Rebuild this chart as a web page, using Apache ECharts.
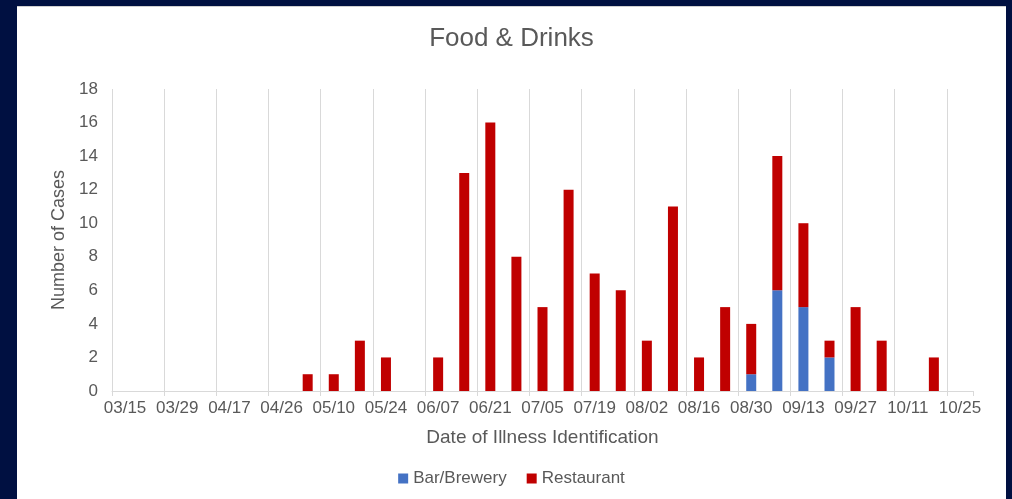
<!DOCTYPE html>
<html>
<head>
<meta charset="utf-8">
<script src="https://cdn.jsdelivr.net/npm/echarts@6/dist/echarts.min.js"></script>
<style>
  html, body { margin: 0; padding: 0; background: #001041; width: 1012px; height: 499px; overflow: hidden; }
  #chart { position: absolute; left: 17px; top: 6px; width: 989px; height: 493px; background: #ffffff; border-top: 1px solid #d0d0d0; box-sizing: border-box; }
</style>
</head>
<body>
<div id="chart"></div>
<script>
const categories = ['03/15','03/22','03/29','04/05','04/17','04/21','04/26','05/03','05/10','05/17','05/24','05/31','06/07','06/14','06/21','06/28','07/05','07/12','07/19','07/26','08/02','08/09','08/16','08/23','08/30','09/06','09/13','09/20','09/27','10/04','10/11','10/18','10/25'];
const barBrewery = [0,0,0,0,0,0,0,0,0,0,0,0,0,0,0,0,0,0,0,0,0,0,0,0,1,6,5,2,0,0,0,0,0];
const restaurant = [0,0,0,0,0,0,0,1,1,3,2,0,2,13,16,8,5,12,7,6,3,11,2,5,3,8,5,1,5,3,0,2,0];
const yTicks = { min: 0, max: 18, interval: 2 };

const FONT = "'Liberation Sans', Arial, sans-serif";
const TXT = '#595959';
const GRID = '#d9d9d9';

// gridline colours: one per labelled boundary, last (axis end) hidden
const splitColors = [];
for (let i = 0; i < categories.length; i += 2) splitColors.push(GRID);
splitColors.push('rgba(0,0,0,0)');

const chart = echarts.init(document.getElementById('chart'), null, { renderer: 'canvas' });
chart.setOption({
  animation: false,
  textStyle: { fontFamily: FONT },
  title: {
    text: 'Food & Drinks',
    left: 'center',
    top: 14,
    textStyle: { fontFamily: FONT, fontSize: 26, fontWeight: 'normal', color: TXT }
  },
  legend: {
    data: ['Bar/Brewery', 'Restaurant'],
    left: 'center',
    top: 458,
    icon: 'rect',
    itemWidth: 10,
    itemHeight: 10,
    itemGap: 20,
    textStyle: { fontFamily: FONT, fontSize: 17, color: TXT }
  },
  grid: { left: 95, right: 33, top: 82, bottom: 108, containLabel: false },
  xAxis: {
    type: 'category',
    data: categories,
    boundaryGap: true,
    name: 'Date of Illness Identification',
    nameLocation: 'middle',
    nameGap: 37,
    nameTextStyle: { fontFamily: FONT, fontSize: 19, color: TXT },
    axisLine: { show: true, lineStyle: { color: GRID, width: 1 } },
    axisTick: { show: true, interval: 1, length: 5, lineStyle: { color: GRID } },
    axisLabel: { interval: 1, margin: 9, fontFamily: FONT, fontSize: 17, color: TXT },
    splitLine: { show: true, interval: 1, lineStyle: { color: splitColors, width: 1 } }
  },
  yAxis: {
    type: 'value',
    min: yTicks.min,
    max: yTicks.max,
    interval: yTicks.interval,
    name: 'Number of Cases',
    nameLocation: 'middle',
    nameGap: 40,
    nameRotate: 90,
    nameTextStyle: { fontFamily: FONT, fontSize: 18, color: TXT },
    axisLine: { show: false },
    axisTick: { show: false },
    axisLabel: { margin: 14, fontFamily: FONT, fontSize: 17, color: TXT },
    splitLine: { show: false }
  },
  series: [
    {
      name: 'Bar/Brewery',
      type: 'bar',
      stack: 'total',
      barWidth: 10,
      data: barBrewery,
      itemStyle: { color: '#4472C4' }
    },
    {
      name: 'Restaurant',
      type: 'bar',
      stack: 'total',
      barWidth: 10,
      data: restaurant,
      itemStyle: { color: '#C00000' }
    }
  ]
});
</script>
</body>
</html>
